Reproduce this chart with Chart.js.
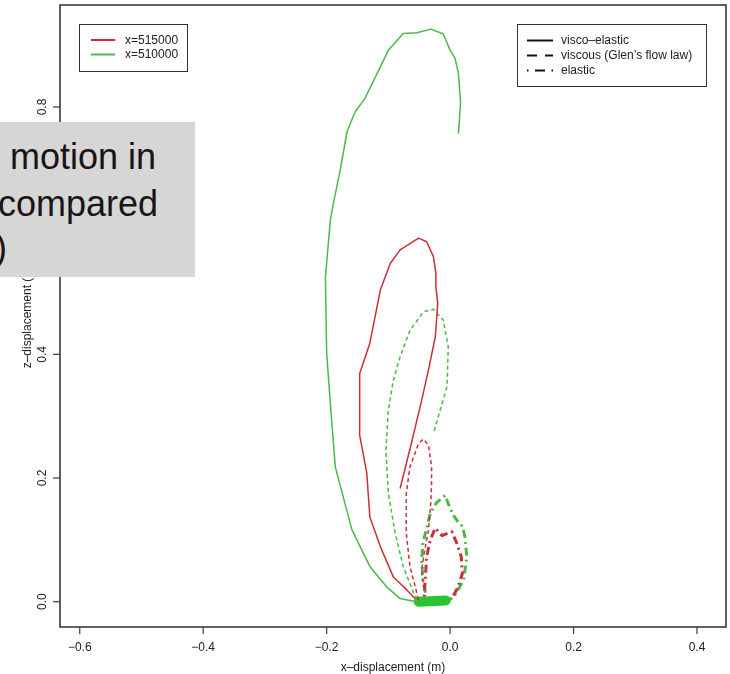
<!DOCTYPE html>
<html><head><meta charset="utf-8">
<script src="https://cdn.jsdelivr.net/npm/chart.js@4.4.1/dist/chart.umd.min.js"></script>
<style>
html,body{margin:0;padding:0;background:#fff;}
#wrap{position:relative;width:730px;height:674px;overflow:hidden;}
#overlay{position:absolute;left:0;top:122px;width:195px;height:155px;background:#d6d6d6;overflow:hidden;font-family:"Liberation Sans",Arial,sans-serif;font-size:36px;line-height:36px;color:#1b1317;}
#overlay span{position:absolute;white-space:nowrap;}
</style></head><body>
<div id="wrap"><canvas id="c" width="730" height="674"></canvas>
<div id="overlay"><span style="left:10px;top:17px">motion in</span><span style="left:-2px;top:64px">compared</span><span style="left:-5px;top:108px">)</span></div>
</div>
<script>
// ---- data (x-displacement, z-displacement in m) ----
const greenViscoElasticX = [-0.055,-0.081,-0.103,-0.130,-0.159,-0.186,-0.192,-0.200,-0.202,-0.194,-0.189,-0.178,-0.167,-0.154,-0.138,-0.113,-0.100,-0.076,-0.054,-0.031,-0.011,0.000,0.008,0.0135,0.017,0.0135];
const greenViscoElasticZ = [0.000,0.005,0.024,0.057,0.116,0.218,0.294,0.402,0.525,0.617,0.645,0.698,0.760,0.792,0.814,0.865,0.892,0.919,0.920,0.926,0.918,0.892,0.879,0.854,0.808,0.757];

const redViscoElasticX = [-0.057,-0.070,-0.092,-0.113,-0.130,-0.135,-0.147,-0.147,-0.146,-0.130,-0.113,-0.097,-0.081,-0.051,-0.038,-0.027,-0.023,-0.023,-0.020,-0.024,-0.035,-0.046,-0.063,-0.081];
const redViscoElasticZ = [0.005,0.019,0.040,0.089,0.137,0.208,0.272,0.294,0.369,0.418,0.504,0.547,0.569,0.588,0.582,0.558,0.531,0.509,0.482,0.428,0.375,0.326,0.255,0.183];

const greenViscousX = [-0.054,-0.059,-0.076,-0.089,-0.100,-0.104,-0.100,-0.092,-0.081,-0.065,-0.043,-0.027,-0.011,-0.003,-0.005,-0.016,-0.027];
const greenViscousZ = [0.003,0.014,0.057,0.111,0.175,0.245,0.310,0.358,0.396,0.439,0.469,0.473,0.455,0.412,0.348,0.310,0.272];

const redViscousX = [-0.052,-0.054,-0.065,-0.071,-0.071,-0.065,-0.051,-0.043,-0.035,-0.030,-0.030,-0.031,-0.035,-0.043,-0.046,-0.042];
const redViscousZ = [0.003,0.014,0.057,0.111,0.175,0.218,0.256,0.263,0.253,0.218,0.192,0.164,0.116,0.073,0.050,0.020];

const greenElasticX = [-0.038,-0.044,-0.046,-0.044,-0.032,-0.022,-0.008,-0.002,0.005,0.013,0.020,0.024,0.027,0.022,0.008,0.000];
const greenElasticZ = [0.005,0.035,0.067,0.095,0.143,0.160,0.172,0.156,0.140,0.129,0.122,0.105,0.073,0.035,0.011,0.003];

const redElasticX = [-0.042,-0.040,-0.038,-0.032,-0.024,-0.013,0.003,0.011,0.018,0.020,0.013,0.003];
const redElasticZ = [0.008,0.040,0.073,0.100,0.119,0.107,0.113,0.094,0.073,0.046,0.024,0.005];

const greenBlobX = [-0.051,-0.007];
const greenBlobZ = [0.000,0.002];

const xTicks = [-0.6,-0.4,-0.2,0.0,0.2,0.4];
const yTicks = [0.0,0.2,0.4,0.6,0.8];
const positionLabels = ['x=515000','x=510000'];
const modelLabels = ['visco\u2013elastic','viscous (Glen\u2019s flow law)','elastic'];

const RED = '#c9303a', GREEN = '#4db84a';
const FONT = '"Liberation Sans", Arial, sans-serif';

function pts(xs, zs){ return xs.map((v,i)=>({x:v, y:zs[i]})); }
function ds(xs, zs, color, width, dash){
  return {data:pts(xs,zs), borderColor:color, borderWidth:width, borderDash:dash||[],
          showLine:true, pointRadius:0, fill:false, tension:0, borderCapStyle:'butt', borderJoinStyle:'round'};
}
const blob = ds(greenBlobX, greenBlobZ, '#2cc42c', 10);
blob.borderCapStyle = 'round';

function fmt(v){ return v.toFixed(1).replace('-', '\u2212'); }

const deco = {
  id:'deco',
  afterDatasetsDraw(chart){
    const {ctx, chartArea:a, scales:{x, y}} = chart;
    ctx.save();
    ctx.strokeStyle = '#3a3a3a'; ctx.lineWidth = 1.6;
    ctx.strokeRect(a.left, a.top, a.right - a.left, a.bottom - a.top);
    ctx.fillStyle = '#222'; ctx.font = '12px ' + FONT;
    ctx.lineWidth = 1.2;
    ctx.textAlign = 'center'; ctx.textBaseline = 'alphabetic';
    xTicks.forEach(v => {
      const px = x.getPixelForValue(v);
      ctx.beginPath(); ctx.moveTo(px, a.bottom); ctx.lineTo(px, a.bottom + 7); ctx.stroke();
      ctx.fillText(fmt(v), px, 651);
    });
    yTicks.forEach(v => {
      const py = y.getPixelForValue(v);
      ctx.beginPath(); ctx.moveTo(a.left - 7, py); ctx.lineTo(a.left, py); ctx.stroke();
      ctx.save(); ctx.translate(45.5, py); ctx.rotate(-Math.PI/2); ctx.fillText(fmt(v), 0, 0); ctx.restore();
    });
    ctx.fillText('x\u2013displacement (m)', (a.left + a.right)/2, 671);
    ctx.save(); ctx.translate(31, (a.top + a.bottom)/2); ctx.rotate(-Math.PI/2);
    ctx.fillText('z\u2013displacement (m)', 0, 0); ctx.restore();

    // legend 1
    ctx.lineWidth = 1; ctx.strokeStyle = '#333'; ctx.fillStyle = '#fff';
    ctx.fillRect(79, 24, 108, 47); ctx.strokeRect(79.5, 24.5, 108, 47);
    [RED, GREEN].forEach((c, i) => {
      const yy = 40 + i*14.5;
      ctx.strokeStyle = c; ctx.lineWidth = 2; ctx.setLineDash([]);
      ctx.beginPath(); ctx.moveTo(91, yy); ctx.lineTo(115, yy); ctx.stroke();
      ctx.fillStyle = '#222'; ctx.textAlign = 'left'; ctx.textBaseline = 'middle';
      ctx.fillText(positionLabels[i], 125, yy + 0.5);
    });
    // legend 2
    ctx.lineWidth = 1; ctx.strokeStyle = '#333'; ctx.fillStyle = '#fff';
    ctx.fillRect(517, 24, 189, 62); ctx.strokeRect(517.5, 24.5, 189, 62);
    const dashes = [[], [10, 8], [1.5, 6.5, 10, 6.5]];
    modelLabels.forEach((t, i) => {
      const yy = 40.5 + i*15;
      ctx.strokeStyle = '#111'; ctx.lineWidth = 2; ctx.setLineDash(dashes[i]);
      ctx.beginPath(); ctx.moveTo(527, yy); ctx.lineTo(553, yy); ctx.stroke();
      ctx.setLineDash([]);
      ctx.fillStyle = '#222'; ctx.textAlign = 'left'; ctx.textBaseline = 'middle';
      ctx.fillText(t, 561, yy + 0.5);
    });
    ctx.restore();
  }
};

new Chart(document.getElementById('c'), {
  type:'scatter',
  data:{datasets:[
    ds(redViscoElasticX, redViscoElasticZ, RED, 1.5),
    ds(greenViscoElasticX, greenViscoElasticZ, GREEN, 1.5),
    ds(redViscousX, redViscousZ, RED, 1.5, [4,3]),
    ds(greenViscousX, greenViscousZ, GREEN, 1.5, [4,3]),
    ds(redElasticX, redElasticZ, RED, 3, [2,4,8,4]),
    ds(greenElasticX, greenElasticZ, GREEN, 3, [2,4,8,4]),
    blob
  ]},
  options:{
    responsive:false, animation:false, devicePixelRatio:1,
    layout:{padding:{left:60, top:5, right:4, bottom:47}},
    plugins:{legend:{display:false}, tooltip:{enabled:false}},
    scales:{
      x:{type:'linear', min:-0.632, max:0.447, display:false},
      y:{type:'linear', min:-0.041, max:0.965, display:false}
    }
  },
  plugins:[deco]
});
</script>
</body></html>
